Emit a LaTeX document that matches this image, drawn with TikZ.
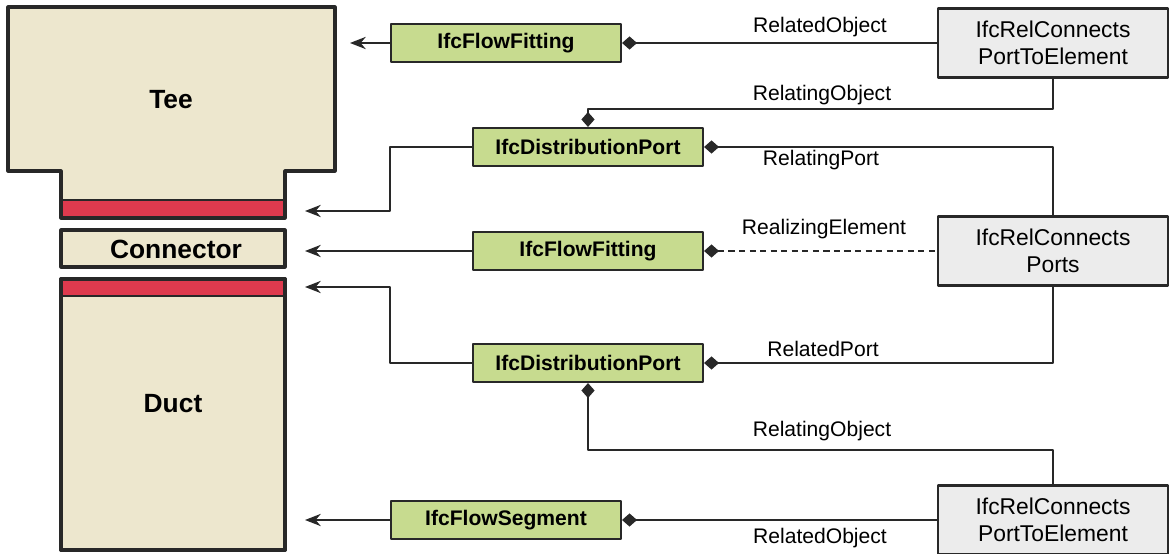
\documentclass[tikz,border=0pt]{standalone}
\usepackage{fontspec}
\setmainfont{Liberation Sans}
\usetikzlibrary{arrows,arrows.meta,positioning}
\definecolor{teebg}{RGB}{237,231,206}
\definecolor{portred}{RGB}{222,58,78}
\definecolor{ifcgreen}{RGB}{199,219,143}
\definecolor{relgray}{RGB}{236,236,236}
\definecolor{lineblk}{RGB}{40,40,40}
\tikzset{
  ent/.style={draw=lineblk,line width=1.2pt,fill=ifcgreen,minimum width=4.6cm,minimum height=0.76cm,inner sep=0pt,font=\fontsize{12}{14}\selectfont\bfseries},
  rel/.style={draw=lineblk,line width=1.2pt,fill=relgray,minimum width=4.6cm,minimum height=1.38cm,inner sep=0pt,align=center,font=\fontsize{13}{15.5}\selectfont},
  part/.style={font=\fontsize{15}{17}\selectfont\bfseries},
  lnk/.style={draw=lineblk,line width=0.8pt},
  own/.style={lnk,{Diamond[length=8.5pt,width=7.5pt]}-},
  toobj/.style={lnk,-{Stealth[length=9pt,width=7pt]}},
  role/.style={inner sep=0pt,font=\fontsize{12}{14}\selectfont}
}
\begin{document}
\begin{tikzpicture}[x=0.2mm,y=-0.2mm,line join=round]
\useasboundingbox (0,0) rectangle (1170,554);
% physical parts
\fill[teebg] (8,7) -- (335,7) -- (335,171) -- (285,171) -- (285,218) -- (61,218) -- (61,171) -- (8,171) -- cycle;
\draw[fill=portred,draw=lineblk,line width=1.3pt] (61,200) rectangle (285,218);
\draw[draw=lineblk,line width=1.8pt] (8,7) -- (335,7) -- (335,171) -- (285,171) -- (285,218) -- (61,218) -- (61,171) -- (8,171) -- cycle;
\draw[fill=teebg,draw=lineblk,line width=1.8pt] (61,230) rectangle (285,267);
\draw[fill=teebg,draw=lineblk,line width=1.8pt] (61,279) rectangle (285,550);
\draw[fill=portred,draw=lineblk,line width=1.3pt] (61,279) rectangle (285,296);
\draw[draw=lineblk,line width=1.8pt] (61,279) rectangle (285,550);
\node[part] (tee) at (171,100) {Tee};
\node[part] (conn) at (176,249) {Connector};
\node[part] (duct) at (173,404) {Duct};
\coordinate (teetop) at (350,43);
\coordinate (teeport) at (305,211);
\coordinate (connend) at (305,251);
\coordinate (ductport) at (305,287);
\coordinate (ductend) at (305,520);
% objects
\node[ent] (fitA) at (506,43) {IfcFlowFitting};
\node[ent] (portA) at (588,147) {IfcDistributionPort};
\node[ent] (fitB) at (588,251) {IfcFlowFitting};
\node[ent] (portB) at (588,363) {IfcDistributionPort};
\node[ent] (seg) at (506,520) {IfcFlowSegment};
% relationships
\node[rel] (relA) at (1053,43) {IfcRelConnects\\PortToElement};
\node[rel] (relP) at (1053,251) {IfcRelConnects\\Ports};
\node[rel] (relB) at (1053,520) {IfcRelConnects\\PortToElement};
% assignments
\draw[toobj] (fitA.west) -- (teetop);
\draw[toobj] (portA.west) -- ++(-82,0) |- (teeport);
\draw[toobj] (fitB.west) -- (connend);
\draw[toobj] (portB.west) -- ++(-82,0) |- (ductport);
\draw[toobj] (seg.west) -- (ductend);
% attributes
\draw[own] (fitA.east) -- (relA.west);
\node[role] at (820,27) {RelatedObject};
\draw[own] (portA.north) -- ++(0,-18) -| (relA.south);
\node[role] at (822,95) {RelatingObject};
\draw[own] (portA.east) -| (relP.north);
\node[role] at (821,160) {RelatingPort};
\draw[own,dash pattern=on 3.5pt off 2.5pt] (fitB.east) -- (relP.west);
\node[role] at (824,229) {RealizingElement};
\draw[own] (portB.east) -| (relP.south);
\node[role] at (823,349) {RelatedPort};
\draw[own] (portB.south) -- ++(0,67) -| (relB.north);
\node[role] at (822,431) {RelatingObject};
\draw[own] (seg.east) -- (relB.west);
\node[role] at (820,538) {RelatedObject};
\end{tikzpicture}
\end{document}
